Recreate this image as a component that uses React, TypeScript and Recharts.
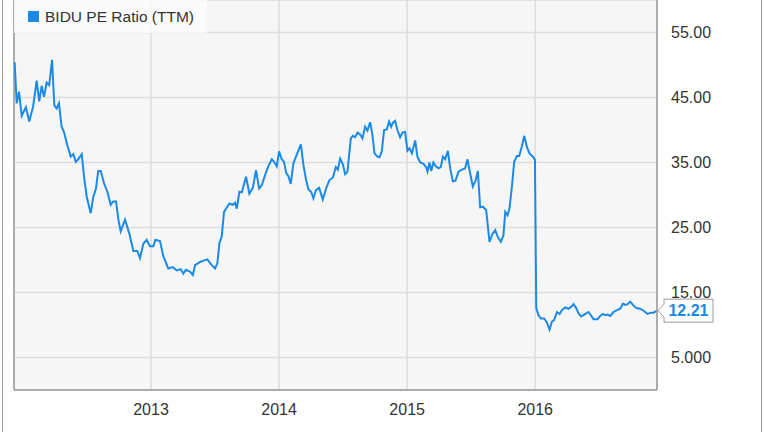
import React from "react"
import {
  LineChart,
  Line,
  XAxis,
  YAxis,
  CartesianGrid,
  Legend,
  ReferenceLine,
} from "recharts"

// decimal years
const dates = [
  2011.935, 2011.951, 2011.969, 2011.99, 2012.023, 2012.049, 2012.08, 2012.107, 2012.127, 2012.146,
  2012.164, 2012.185, 2012.205, 2012.227, 2012.245, 2012.263, 2012.281, 2012.302, 2012.32, 2012.346,
  2012.373, 2012.393, 2012.412, 2012.432, 2012.459, 2012.477, 2012.498, 2012.529, 2012.549, 2012.57,
  2012.588, 2012.607, 2012.633, 2012.659, 2012.685, 2012.705, 2012.727, 2012.745, 2012.763, 2012.797,
  2012.83, 2012.862, 2012.893, 2012.914, 2012.94, 2012.966, 2012.992, 2013.018, 2013.034, 2013.07,
  2013.096, 2013.135, 2013.17, 2013.201, 2013.232, 2013.252, 2013.273, 2013.305, 2013.326, 2013.344,
  2013.383, 2013.409, 2013.44, 2013.466, 2013.5, 2013.518, 2013.534, 2013.552, 2013.57, 2013.612,
  2013.638, 2013.656, 2013.67, 2013.69, 2013.709, 2013.742, 2013.768, 2013.795, 2013.82, 2013.844,
  2013.865, 2013.891, 2013.916, 2013.943, 2013.961, 2013.982, 2014.0, 2014.021, 2014.039, 2014.055,
  2014.073, 2014.091, 2014.112, 2014.138, 2014.17, 2014.19, 2014.211, 2014.229, 2014.25, 2014.268,
  2014.289, 2014.313, 2014.341, 2014.367, 2014.393, 2014.42, 2014.443, 2014.459, 2014.477, 2014.498,
  2014.516, 2014.534, 2014.56, 2014.576, 2014.594, 2014.612, 2014.633, 2014.651, 2014.672, 2014.69,
  2014.711, 2014.729, 2014.745, 2014.768, 2014.784, 2014.802, 2014.82, 2014.841, 2014.859, 2014.875,
  2014.888, 2014.906, 2014.924, 2014.945, 2014.963, 2014.984, 2015.002, 2015.018, 2015.037, 2015.063,
  2015.08, 2015.102, 2015.127, 2015.148, 2015.159, 2015.174, 2015.188, 2015.205, 2015.224, 2015.245,
  2015.263, 2015.279, 2015.297, 2015.318, 2015.336, 2015.357, 2015.377, 2015.401, 2015.427, 2015.453,
  2015.471, 2015.492, 2015.513, 2015.534, 2015.552, 2015.57, 2015.591, 2015.617, 2015.643, 2015.666,
  2015.688, 2015.709, 2015.732, 2015.752, 2015.766, 2015.784, 2015.799, 2015.818, 2015.836, 2015.857,
  2015.875, 2015.896, 2015.914, 2015.935, 2015.955, 2015.982, 2015.998, 2016.008, 2016.026, 2016.045,
  2016.07, 2016.091, 2016.112, 2016.13, 2016.148, 2016.17, 2016.19, 2016.209, 2016.234, 2016.26,
  2016.281, 2016.299, 2016.32, 2016.338, 2016.359, 2016.383, 2016.416, 2016.435, 2016.455, 2016.487,
  2016.508, 2016.529, 2016.547, 2016.565, 2016.586, 2016.612, 2016.638, 2016.664, 2016.685, 2016.703,
  2016.721, 2016.742, 2016.763, 2016.789, 2016.82, 2016.846, 2016.877, 2016.904, 2016.924, 2016.951,
]

const peRatio = [
  50.4, 44.1, 45.9, 42.2, 43.5, 41.3, 43.7, 47.6, 44.4, 46.8,
  45.1, 47.3, 46.9, 50.8, 43.8, 43.3, 44.1, 40.5, 39.7, 37.7,
  35.9, 36.3, 35.1, 35.5, 36.3, 32.8, 29.7, 27.2, 29.7, 31.0,
  33.7, 33.7, 31.8, 30.5, 28.5, 29.0, 29.0, 26.2, 24.4, 26.2,
  24.1, 21.4, 21.4, 20.3, 22.5, 23.1, 22.1, 22.1, 23.1, 22.9,
  20.6, 18.7, 18.9, 18.4, 18.6, 17.9, 18.5, 18.2, 17.7, 19.2,
  19.7, 19.9, 20.1, 19.4, 18.7, 19.5, 22.6, 23.6, 27.4, 28.7,
  28.5, 28.8, 27.9, 30.5, 30.4, 32.8, 30.2, 31.1, 33.8, 31.0,
  31.5, 33.1, 34.4, 35.5, 35.1, 34.4, 36.7, 35.5, 35.1, 33.4,
  32.9, 31.7, 34.9, 36.2, 37.8, 34.6, 32.3, 30.9, 30.5, 29.5,
  30.8, 31.1, 29.3, 31.0, 32.3, 32.7, 34.3, 33.9, 35.6, 34.7,
  33.2, 33.6, 38.7, 39.1, 38.9, 39.6, 39.3, 38.7, 40.5, 39.9,
  41.2, 39.2, 36.4, 35.9, 35.8, 36.7, 40.0, 40.1, 41.3, 40.5,
  41.1, 41.4, 40.0, 38.9, 39.6, 39.7, 36.8, 37.2, 36.4, 38.4,
  35.9, 35.0, 34.8, 34.3, 33.6, 35.0, 33.7, 35.0, 34.4, 34.1,
  34.3, 35.9, 35.5, 36.8, 34.1, 32.1, 32.2, 33.6, 33.9, 34.1,
  35.5, 33.3, 31.3, 32.2, 33.7, 28.1, 28.2, 27.7, 22.8, 24.0,
  24.6, 23.5, 22.8, 23.8, 27.4, 26.9, 27.9, 31.3, 35.1, 36.0,
  36.0, 37.5, 39.1, 37.4, 36.4, 35.9, 35.4, 12.6, 11.5, 11.0,
  11.0, 10.4, 9.3, 10.5, 10.8, 12.0, 11.7, 12.3, 12.7, 12.5,
  12.8, 13.2, 12.6, 11.8, 11.3, 11.6, 12.0, 11.5, 10.9, 10.9,
  11.4, 11.7, 11.5, 11.6, 11.4, 12.0, 12.3, 12.5, 13.3, 13.1,
  13.2, 13.6, 13.1, 12.6, 12.5, 12.2, 11.7, 11.9, 11.9, 12.21,
]

const yearTicks = [2013, 2014, 2015, 2016]
const valueTicks = [5, 15, 25, 35, 45, 55]

const SERIES_NAME = "BIDU PE Ratio (TTM)"
const BLUE = "#1b8ae6"
const FONT = "'Liberation Sans', Arial, sans-serif"

const data = dates.map((t, i) => ({ t, pe: peRatio[i] }))

const formatValue = (v: number) => (v < 10 ? v.toFixed(3) : v.toFixed(2))

// boxed value tag next to the last point
const LastValueTag = (props: any) => {
  const { x, y, index, value } = props
  if (index !== data.length - 1) return null
  const left = x + 7
  const w = 49
  const h = 23
  const top = y - h / 2
  const d = `M${x + 1},${y} L${left},${top + 5} L${left},${top} L${left + w},${top} L${left + w},${top + h} L${left},${top + h} L${left},${top + h - 5} Z`
  return (
    <g>
      <path d={d} fill="#fff" stroke="#999" strokeWidth={1} />
      <text
        x={left + w / 2}
        y={y + 1}
        textAnchor="middle"
        dominantBaseline="middle"
        fill={BLUE}
        fontSize={16}
        fontWeight="bold"
        fontFamily={FONT}
      >
        {formatValue(value)}
      </text>
    </g>
  )
}

const LegendBox = () => (
  <div
    style={{
      width: 193,
      height: 33,
      background: "rgba(252,252,252,0.85)",
      display: "flex",
      alignItems: "center",
      fontFamily: FONT,
      fontSize: 15.5,
      color: "#333",
    }}
  >
    <span style={{ width: 11, height: 11, background: BLUE, marginLeft: 14, marginRight: 6 }} />
    <span>{SERIES_NAME}</span>
  </div>
)

export default function App() {
  return (
    <div style={{ position: "absolute", left: 0, top: 0, width: 764, height: 432, background: "#fff" }}>
      <div style={{ position: "absolute", left: 2, top: 0, width: 1, height: 432, background: "#999" }} />
      <div style={{ position: "absolute", left: 761, top: 0, width: 1, height: 432, background: "#999" }} />
      <LineChart width={764} height={432} data={data} margin={{ top: 0, right: 0, bottom: 12, left: 14 }}>
        <CartesianGrid fill="#f6f6f6" stroke="#dddddd" strokeWidth={1.5} />
        <XAxis
          dataKey="t"
          type="number"
          domain={[2011.93, 2016.951]}
          ticks={yearTicks}
          tickLine={false}
          axisLine={{ stroke: "#999", strokeWidth: 1.5 }}
          tick={{ fill: "#333", fontSize: 16, fontFamily: FONT }}
          tickMargin={8}
          height={30}
          allowDataOverflow
        />
        <YAxis
          orientation="right"
          type="number"
          domain={[0, 60]}
          ticks={valueTicks}
          tickFormatter={formatValue}
          tickLine={false}
          axisLine={{ stroke: "#999", strokeWidth: 1.5 }}
          tick={{ fill: "#333", fontSize: 16, fontFamily: FONT }}
          tickMargin={8}
          width={107}
        />
        <ReferenceLine x={2011.93} stroke="#999" strokeWidth={1.5} />
        <Legend
          layout="vertical"
          verticalAlign="middle"
          align="center"
          content={<LegendBox />}
          wrapperStyle={{ top: 0, left: 14, width: 193 }}
        />
        <Line
          type="linear"
          dataKey="pe"
          name={SERIES_NAME}
          stroke={BLUE}
          strokeWidth={2}
          dot={false}
          label={<LastValueTag />}
          isAnimationActive={false}
        />
      </LineChart>
    </div>
  )
}
